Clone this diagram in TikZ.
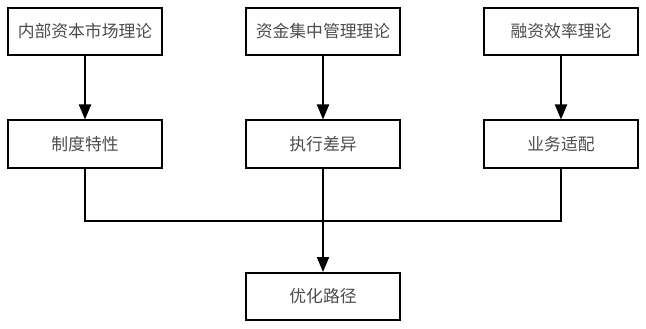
\documentclass[tikz,border=0pt]{standalone}
\usepackage{fontspec}
\setmainfont{Noto Sans CJK SC}
\usetikzlibrary{arrows.meta, positioning}

\begin{document}
\begin{tikzpicture}[
    x=1pt, y=-1pt,
    >={Triangle[length=15pt, width=12pt]},
    box/.style={draw, line width=2pt, minimum width=154pt,
                minimum height=47pt, inner sep=0pt,
                font=\fontsize{16.8}{19}\selectfont, text=black!70},
    link/.style={line width=2pt}
  ]
  \useasboundingbox (0,0) rectangle (646,329);

  % Theories and their effects
  \foreach \i/\x/\t/\e in {
    1/85/内部资本市场理论/制度特性,
    2/323/资金集中管理理论/执行差异,
    3/561/融资效率理论/业务适配} {
    \node[box] (t\i) at (\x, 31.5) {\t};
    \node[box] (e\i) at (\x, 144) {\e};
    \draw[link, ->] (t\i) -- (e\i);
  }

  % Result
  \node[box] (res) at (323, 296.5) {优化路径};

  % Merge
  \coordinate (m1) at (85, 221);
  \coordinate (m3) at (561, 221);
  \draw[link] (e1.south) -- (m1) -- (m3) -- (e3.south);
  \draw[link, ->] (e2) -- (res);
\end{tikzpicture}
\end{document}
